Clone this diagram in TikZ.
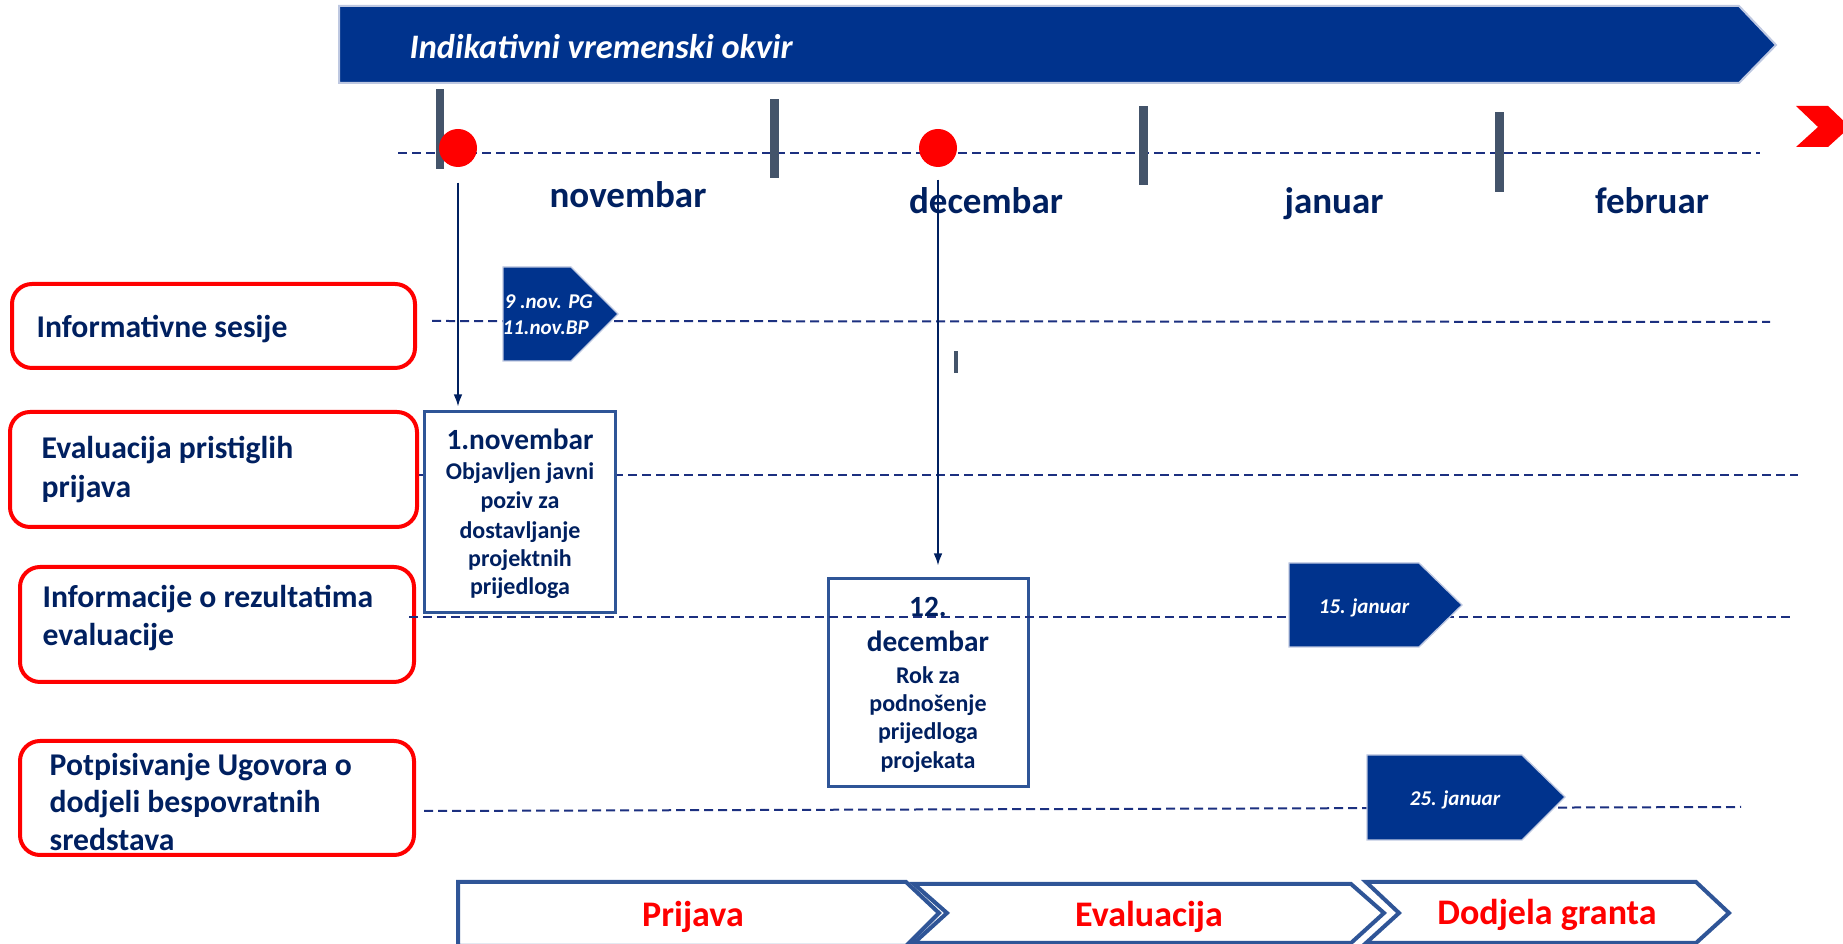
\documentclass[tikz,border=0pt]{standalone}
\usepackage{fontspec}
\setmainfont{Carlito}
\usetikzlibrary{arrows.meta}
\definecolor{bannerblue}{RGB}{0,51,141}
\definecolor{txtnavy}{RGB}{0,32,96}
\definecolor{dashnavy}{RGB}{28,48,128}
\definecolor{boxblue}{RGB}{47,85,151}
\definecolor{tickgray}{RGB}{68,84,106}
\definecolor{edgeblue}{RGB}{190,200,225}
\definecolor{pureRed}{RGB}{255,0,0}
\tikzset{
  redbox/.style={draw=pureRed, line width=1.2pt, rounded corners=6pt, rectangle, inner sep=0, fill=white},
  bluebox/.style={draw=boxblue, line width=0.9pt, rectangle, inner sep=0, fill=white},
  rowline/.style={draw=dashnavy, line width=0.6pt, dash pattern=on 2.7pt off 1.5pt},
  lbl/.style={font=\fontsize{9.5}{11}\selectfont\bfseries, text=txtnavy, anchor=base west, inner sep=0},
  month/.style={font=\fontsize{11.1}{13}\selectfont\bfseries, text=txtnavy, anchor=base, inner sep=0},
  boxhead/.style={font=\fontsize{8.8}{10}\selectfont\bfseries, text=txtnavy, anchor=base, inner sep=0},
  boxbody/.style={font=\fontsize{7.2}{8.6}\selectfont\bfseries, text=txtnavy, anchor=base, inner sep=0},
  pentxt/.style={font=\fontsize{6.3}{7.5}\selectfont\bfseries\itshape, text=white, inner sep=0},
  phase/.style={font=\fontsize{10.8}{13}\selectfont\bfseries, text=pureRed, anchor=base, inner sep=0},
  penta/.style={fill=bannerblue, draw=edgeblue, line width=0.4pt},
  chev/.style={draw=boxblue, line width=1.2pt, fill=white, line join=miter},
  tickbar/.style={fill=tickgray},
  arr/.style={draw=txtnavy, line width=0.5pt, -{Latex[length=3.6pt,width=2.6pt]}},
  dot/.style={circle, fill=pureRed, minimum size=11.4pt, inner sep=0}
}
\begin{document}
\begin{tikzpicture}[x=0.3pt,y=-0.3pt]
\useasboundingbox (0,0) rectangle (1843,944);
% banner
\filldraw[fill=bannerblue, draw=edgeblue, line width=0.6pt] (339,6) -- (1739,6) -- (1776,45) -- (1739,83) -- (339,83) -- cycle;
\node[font=\fontsize{10.3}{12}\selectfont\bfseries\itshape, text=white, anchor=base west, inner sep=0] (title) at (409,59) {Indikativni vremenski okvir};
% timeline
\coordinate (tl0) at (398,153);
\coordinate (tl1) at (1760,153);
\draw[rowline] (tl0) -- (tl1);
\fill[tickbar] (436,89) rectangle (444,169);
\fill[tickbar] (770,99) rectangle (779,178);
\fill[tickbar] (1139,106) rectangle (1148,185);
\fill[tickbar] (1495,112) rectangle (1504,192);
\node[dot] (c1) at (458,148) {};
\node[dot] (c2) at (938,148) {};
\fill[pureRed] (1796,106) -- (1828,106) -- (1850,127) -- (1828,147) -- (1796,147) -- (1818,127) -- cycle;
% months
\node[month] (mnov) at (628,208) {novembar};
\node[month] (mdec) at (986,214) {decembar};
\node[month] (mjan) at (1334,214) {januar};
\node[month] (mfeb) at (1652,214) {februar};
% row lines
\coordinate (r1a) at (432,321); \coordinate (r1b) at (1770,322);
\coordinate (r2a) at (418,475); \coordinate (r2b) at (1798,475);
\coordinate (r3a) at (409,617); \coordinate (r3b) at (1791,617);
\coordinate (r4a) at (424,811); \coordinate (r4b) at (1741,807);
\draw[rowline] (r1a) -- (r1b);
\draw[rowline] (r2a) -- (r2b);
\draw[rowline] (r4a) -- (r4b);
% left boxes
\node[redbox, minimum width=120.9pt, minimum height=25.2pt] (boxA) at (213.5,326) {};
\node[redbox, minimum width=122.1pt, minimum height=34.5pt] (boxB) at (213.5,469.5) {};
\node[redbox, minimum width=118.2pt, minimum height=34.5pt] (boxC) at (217,624.5) {};
\node[redbox, minimum width=118.2pt, minimum height=34.2pt] (boxD) at (217,798) {};
\node[lbl] (tA) at (36,338) {Informativne sesije};
\node[lbl] (tB1) at (41,459) {Evaluacija pristiglih};
\node[lbl] (tB2) at (41,498) {prijava};
\node[lbl] (tC1) at (42,608) {Informacije o rezultatima};
\node[lbl] (tC2) at (42,646) {evaluacije};
\node[lbl] (tD1) at (49,776) {Potpisivanje Ugovora o};
\node[lbl] (tD2) at (49,813) {dodjeli bespovratnih};
\node[lbl] (tD3) at (49,851) {sredstava};
% blue boxes
\node[bluebox, minimum width=57.3pt, minimum height=60.3pt] (box1) at (519.5,512.5) {};
\node[bluebox, minimum width=60pt, minimum height=62.4pt] (box2) at (928,683) {};
\draw[rowline] (r3a) -- (r3b);
\node[boxhead] (b1h) at (520,450) {1.novembar};
\node[boxbody] (b1l1) at (520,480) {Objavljen javni};
\node[boxbody] (b1l2) at (520,509) {poziv za};
\node[boxbody] (b1l3) at (520,539) {dostavljanje};
\node[boxbody] (b1l4) at (520,567) {projektnih};
\node[boxbody] (b1l5) at (520,595) {prijedloga};
\node[boxhead] (b2h1) at (928,617) {12.};
\node[boxhead] (b2h2) at (928,652) {decembar};
\node[boxbody] (b2l1) at (928,684) {Rok za};
\node[boxbody] (b2l2) at (928,712) {podnošenje};
\node[boxbody] (b2l3) at (928,740) {prijedloga};
\node[boxbody] (b2l4) at (928,769) {projekata};
% pentagons
\filldraw[penta] (503,267) -- (571,267) -- (618,314) -- (571,361) -- (503,361) -- cycle;
\filldraw[penta] (1289,563) -- (1419,563) -- (1462,605) -- (1419,647) -- (1289,647) -- cycle;
\filldraw[penta] (1367,755) -- (1522,755) -- (1565,797) -- (1522,840) -- (1367,840) -- cycle;
\node[pentxt, anchor=base west] (p1a) at (504,309) {9 .nov. PG};
\node[pentxt, anchor=base west] (p1b) at (502,335) {11.nov.BP};
\node[pentxt, anchor=base] (p2) at (1364,614) {15. januar};
\node[pentxt, anchor=base] (p3) at (1455,806) {25. januar};
% small mark
\fill[tickbar] (954,351) rectangle (958,373);
% arrows
\draw[arr, shorten <=4.5pt, shorten >=1.2pt] (c1.south) -- (c1.south |- box1.north);
\draw[arr, shorten <=3.6pt, shorten >=3.6pt] (c2.south) -- (c2.south |- box2.north);
% bottom chevrons
\draw[chev] (458,882) -- (906,882) -- (939,913) -- (906,946) -- (458,946) -- cycle;
\draw[chev] (914,884) -- (1351,884) -- (1384,913) -- (1351,943) -- (914,943) -- (947,913) -- cycle;
\draw[chev] (1366,882) -- (1696,882) -- (1729,913) -- (1696,943) -- (1366,943) -- (1399,913) -- cycle;
\node[phase] (ph1) at (693,927) {Prijava};
\node[phase] (ph2) at (1149,927) {Evaluacija};
\node[phase] (ph3) at (1547,925) {Dodjela granta};
\end{tikzpicture}
\end{document}
